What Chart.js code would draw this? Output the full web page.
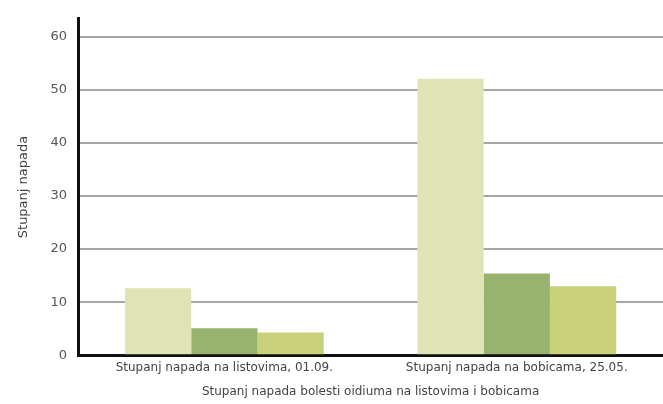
<!DOCTYPE html>
<html><head><meta charset="utf-8">
<script src="https://cdn.jsdelivr.net/npm/chart.js@4.4.1/dist/chart.umd.min.js"></script>
<style>html,body{margin:0;padding:0;background:#fff}#wrap{width:663px;height:404px}</style>
</head><body><div id="wrap"><canvas id="c"></canvas></div>
<script>
const categories = ["Stupanj napada na listovima, 01.09.", "Stupanj napada na bobicama, 25.05."];
const series1 = [12.6, 52.1];
const series2 = [5.1, 15.4];
const series3 = [4.3, 13.0];
const yTicks = [0, 10, 20, 30, 40, 50, 60];
const yTitle = "Stupanj napada";
const xTitle = "Stupanj napada bolesti oidiuma na listovima i bobicama";
const colors = ["#dfe3b5", "#97b36f", "#c9d17b"];

new Chart(document.getElementById('c'), {
  type: 'bar',
  data: {
    labels: categories,
    datasets: [
      {label: 'A', data: series1, backgroundColor: colors[0]},
      {label: 'B', data: series2, backgroundColor: colors[1]},
      {label: 'C', data: series3, backgroundColor: colors[2]}
    ]
  },
  options: {
    responsive: true, maintainAspectRatio: false, animation: false,
    layout: {padding: {top: 0, right: 0, left: 16, bottom: 5}},
    plugins: {legend: {display: false}, tooltip: {enabled: false}},
    datasets: {bar: {categoryPercentage: 0.68, barPercentage: 1.0, borderWidth: 0}},
    scales: {
      x: {
        grid: {display: false, drawTicks: false},
        border: {color: '#111', width: 3},
        ticks: {color: '#444', font: {family: 'DejaVu Sans', size: 12}, padding: 5},
        title: {display: true, text: xTitle, color: '#444', font: {family: 'DejaVu Sans', size: 12}, padding: {top: 5, bottom: 0}}
      },
      y: {
        min: 0, max: 63.4,
        afterBuildTicks: (s) => { s.ticks = yTicks.map(v => ({value: v})); },
        grid: {color: '#a6a6a6', lineWidth: 2, drawTicks: false},
        border: {color: '#111', width: 3},
        ticks: {color: '#555', font: {family: 'DejaVu Sans', size: 13}, padding: 11},
        title: {display: true, text: yTitle, color: '#444', font: {family: 'DejaVu Sans', size: 13}, padding: {top: 0, bottom: 8}}
      }
    }
  }
});
</script></body></html>
